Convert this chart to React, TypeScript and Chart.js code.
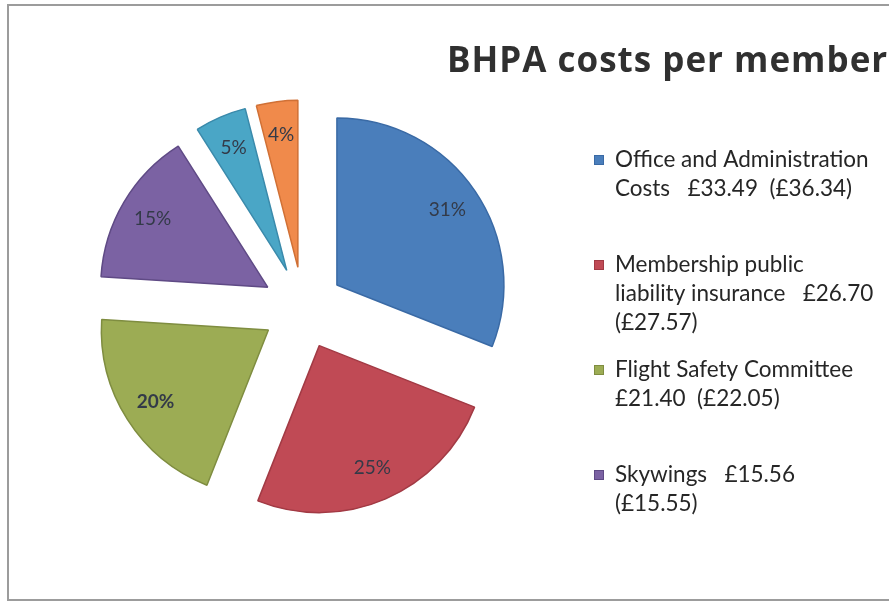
import React, { useEffect, useRef } from "react";
import { Chart, registerables } from "chart.js";

Chart.register(...registerables);

// ---- data ----
const categories = [
  "Office and Administration Costs",
  "Membership public liability insurance",
  "Flight Safety Committee",
  "Skywings",
  "Other costs A",
  "Other costs B",
];
const shares = [31, 25, 20, 15, 5, 4];
const shareLabels = ["31%", "25%", "20%", "15%", "5%", "4%"];
const legendLines = [
  ["Office and Administration", "Costs   £33.49  (£36.34)"],
  ["Membership public", "liability insurance   £26.70", "(£27.57)"],
  ["Flight Safety Committee", "£21.40  (£22.05)"],
  ["Skywings   £15.56", "(£15.55)"],
];
const titleText = "BHPA costs per member";

// ---- styles ----
const fills = ["#4a7ebb", "#c04a55", "#9cac54", "#7b62a3", "#4aa6c6", "#f08a4b"];
const borders = ["#3a6aa5", "#a23a44", "#7f8d40", "#5f4a85", "#3a8aab", "#d07035"];
const labelBold = [false, false, true, false, false, false];
const EXPLODE = 41;
const FONT = "Lato, 'Open Sans', sans-serif";
const TITLE_FONT = "'Open Sans', Lato, sans-serif";

const piePlugin = {
  id: "explodedPie",
  beforeDatasetDraw(chart: any, args: any) {
    const ctx = chart.ctx;
    const meta = chart.getDatasetMeta(args.index);
    meta.data.forEach((arc: any) => {
      const half = (arc.startAngle + arc.endAngle) / 2;
      ctx.save();
      ctx.translate(Math.cos(half) * EXPLODE, Math.sin(half) * EXPLODE);
      arc.draw(ctx);
      ctx.restore();
    });
    meta.data.forEach((arc: any, i: number) => {
      const half = (arc.startAngle + arc.endAngle) / 2;
      const r = EXPLODE + arc.outerRadius * 0.8;
      const x = arc.x + Math.cos(half) * r;
      const y = arc.y + Math.sin(half) * r;
      ctx.save();
      ctx.font = `${labelBold[i] ? "bold " : ""}19px ${FONT}`;
      ctx.fillStyle = "#333a48";
      ctx.textAlign = "center";
      ctx.textBaseline = "middle";
      ctx.fillText(shareLabels[i], x, y);
      ctx.restore();
    });
    return false;
  },
  afterDraw(chart: any) {
    const ctx = chart.ctx;
    ctx.save();
    // frame
    ctx.strokeStyle = "#9c9c9c";
    ctx.lineWidth = 2;
    ctx.strokeRect(8, 5, 900, 595);
    // title
    ctx.font = `bold 35px ${TITLE_FONT}`;
    (ctx as any).letterSpacing = "1px";
    ctx.fillStyle = "#303030";
    ctx.textAlign = "left";
    ctx.textBaseline = "alphabetic";
    ctx.fillText(titleText, 447, 72);
    (ctx as any).letterSpacing = "0px";
    // legend
    ctx.font = `22.5px ${FONT}`;
    ctx.textBaseline = "middle";
    legendLines.forEach((lines, i) => {
      const y0 = 160 + i * 105;
      ctx.fillStyle = fills[i];
      ctx.fillRect(594, y0 - 5, 10, 10);
      ctx.strokeStyle = borders[i];
      ctx.lineWidth = 1;
      ctx.strokeRect(594.5, y0 - 4.5, 9, 9);
      ctx.fillStyle = "#262626";
      lines.forEach((t, j) => ctx.fillText(t, 615, y0 + j * 29));
    });
    ctx.restore();
  },
};

export default function App() {
  const ref = useRef<HTMLCanvasElement>(null);
  useEffect(() => {
    if (!ref.current) return;
    const chart = new Chart(ref.current, {
      type: "pie",
      data: {
        labels: categories,
        datasets: [
          {
            data: shares,
            backgroundColor: fills,
            borderColor: borders,
            borderWidth: 1.5,
            radius: 167,
          },
        ],
      },
      options: {
        responsive: false,
        animation: false,
        layout: { padding: { left: 53, right: 336, top: 58, bottom: 46 } },
        plugins: {
          legend: { display: false },
          title: { display: false },
          tooltip: { enabled: false },
        },
      },
      plugins: [piePlugin],
    });
    return () => chart.destroy();
  }, []);
  return (
    <div style={{ position: "fixed", left: 0, top: 0, width: 889, height: 604, background: "#fff" }}>
      <canvas ref={ref} width={889} height={604} style={{ display: "block" }} />
    </div>
  );
}
